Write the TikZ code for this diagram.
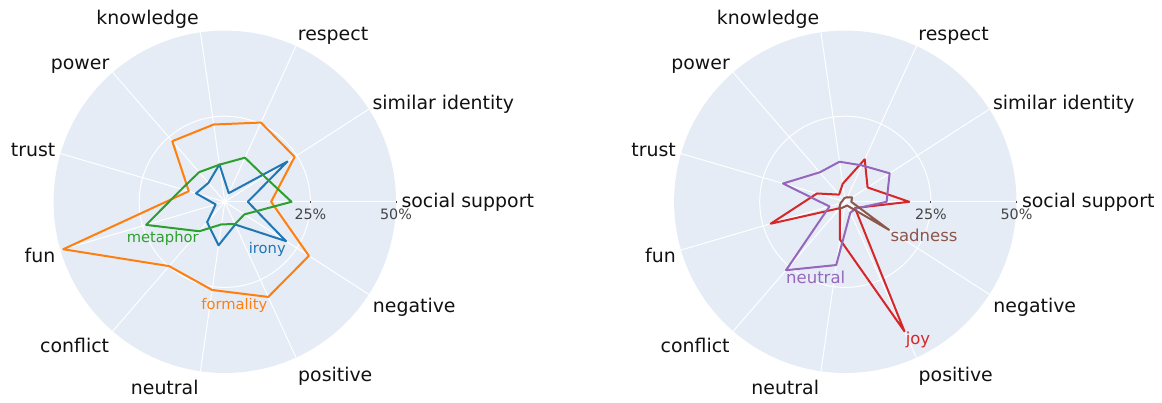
\documentclass[tikz,border=0pt]{standalone}
\usepackage{fontspec}
\setmainfont{DejaVu Sans}
\definecolor{bgcol}{HTML}{E5ECF6}
\definecolor{labcol}{HTML}{111111}
\definecolor{tickcol}{HTML}{444444}
\definecolor{tblue}{HTML}{1F77B4}
\definecolor{torange}{HTML}{FF7F0E}
\definecolor{tgreen}{HTML}{2CA02C}
\definecolor{tred}{HTML}{D62728}
\definecolor{tpurple}{HTML}{9467BD}
\definecolor{tbrown}{HTML}{8C564B}
\newcommand{\radarbg}[1]{%
  \fill[bgcol] (0,0) circle (171.2);
  \draw[gridline] (0,0) circle (85.6);
  \foreach \k in {0,...,10} {\draw[gridline] (0,0) -- (\k*32.7273:171.2);}
  \draw[tickcol, line width=0.9pt] (85.6,0.6) -- (85.6,-0.9);
  \draw[tickcol, line width=0.9pt] (171.2,0.6) -- (171.2,-0.9);
  \node[ticklab] (#1t25) at (85.6,-17.5) {25\%};
  \node[ticklab] (#1t50) at (171.2,-17.5) {50\%};
  \node[axlab, anchor=base west] (#1ss) at (176.5,-5.5) {social support};
  \node[axlab, anchor=base west] (#1si) at (147.5,92.3) {similar identity};
  \node[axlab, anchor=base west] (#1re) at (72.9,160.8) {respect};
  \node[axlab, anchor=base east] (#1kn) at (-25.8,176.8) {knowledge};
  \node[axlab, anchor=base east] (#1po) at (-115.3,132.3) {power};
  \node[axlab, anchor=base east] (#1tr) at (-169.3,45.1) {trust};
  \node[axlab, anchor=base east] (#1fu) at (-169.3,-60.9) {fun};
  \node[axlab, anchor=base east] (#1co) at (-115.5,-150.9) {conflict};
  \node[axlab, anchor=base east] (#1ne) at (-26.1,-192.5) {neutral};
  \node[axlab, anchor=base west] (#1ps) at (73.2,-179.9) {positive};
  \node[axlab, anchor=base west] (#1ng) at (147.9,-110.5) {negative};
}
\begin{document}
\begin{tikzpicture}[x=1pt,y=1pt,
  gridline/.style={white, line width=1pt},
  axlab/.style={text=labcol, font=\fontsize{18.9}{22}\selectfont, inner sep=0pt},
  ticklab/.style={text=tickcol, font=\fontsize{14.3}{17}\selectfont, inner sep=0pt, anchor=base},
  trace/.style={line width=2pt, line join=round},
  tlabL/.style={font=\fontsize{14.7}{17}\selectfont, inner sep=0pt, anchor=base},
  tlabR/.style={font=\fontsize{16.5}{19}\selectfont, inner sep=0pt, anchor=base}
]
\useasboundingbox (0,0) rectangle (1162,403);
\begin{scope}[shift={(224.8,201.2)}]
  \radarbg{L}
  \draw[trace, torange] (0:46.3) -- (32.7273:83) -- (65.4545:87.1) -- (98.1818:78.1) -- (130.9091:80.2) -- (163.6364:37.5) -- (196.3636:168.4) -- (229.0909:85.1) -- (261.8182:89.1) -- (294.5455:104.6) -- (327.2727:100) -- cycle;
  \draw[trace, tblue] (0:23) -- (32.7273:74.5) -- (65.4545:9.5) -- (98.1818:37.8) -- (130.9091:25) -- (163.6364:30) -- (196.3636:9.5) -- (229.0909:27) -- (261.8182:44) -- (294.5455:25) -- (327.2727:72.8) -- cycle;
  \draw[trace, tgreen] (0:66.7) -- (32.7273:47) -- (65.4545:48.5) -- (98.1818:37.5) -- (130.9091:39.2) -- (163.6364:45) -- (196.3636:82) -- (229.0909:39) -- (261.8182:22.8) -- (294.5455:24.5) -- (327.2727:23.3) -- cycle;
\end{scope}
\node[tlabL, text=tgreen] (lmeta) at (162.7,160.3) {metaphor};
\node[tlabL, text=tblue] (lirony) at (267.3,149.7) {irony};
\node[tlabL, text=torange] (lform) at (234.3,93.5) {formality};
\begin{scope}[shift={(845.3,201.2)}]
  \radarbg{R}
  \draw[trace, tred] (0:64) -- (32.7273:26.5) -- (65.4545:46.7) -- (98.1818:18.2) -- (130.9091:9.5) -- (163.6364:29.5) -- (196.3636:77.8) -- (229.0909:8.4) -- (261.8182:38) -- (294.5455:142.5) -- (327.2727:11.5) -- cycle;
  \draw[trace, tpurple] (0:41.3) -- (32.7273:52.7) -- (65.4545:40) -- (98.1818:40.5) -- (130.9091:39) -- (163.6364:64.9) -- (196.3636:16.5) -- (229.0909:90.5) -- (261.8182:63.9) -- (294.5455:12) -- (327.2727:12.5) -- cycle;
  \draw[trace, tbrown] (0:6) -- (32.7273:8) -- (65.4545:5) -- (98.1818:4) -- (130.9091:3) -- (163.6364:3) -- (196.3636:5) -- (229.0909:9.5) -- (261.8182:5) -- (294.5455:4) -- (327.2727:52) -- cycle;
\end{scope}
\node[tlabR, text=tbrown] (rsad) at (924,161.3) {sadness};
\node[tlabR, text=tpurple] (rneu) at (815.7,119.7) {neutral};
\node[tlabR, text=tred] (rjoy) at (918,58) {joy};
\end{tikzpicture}
\end{document}
